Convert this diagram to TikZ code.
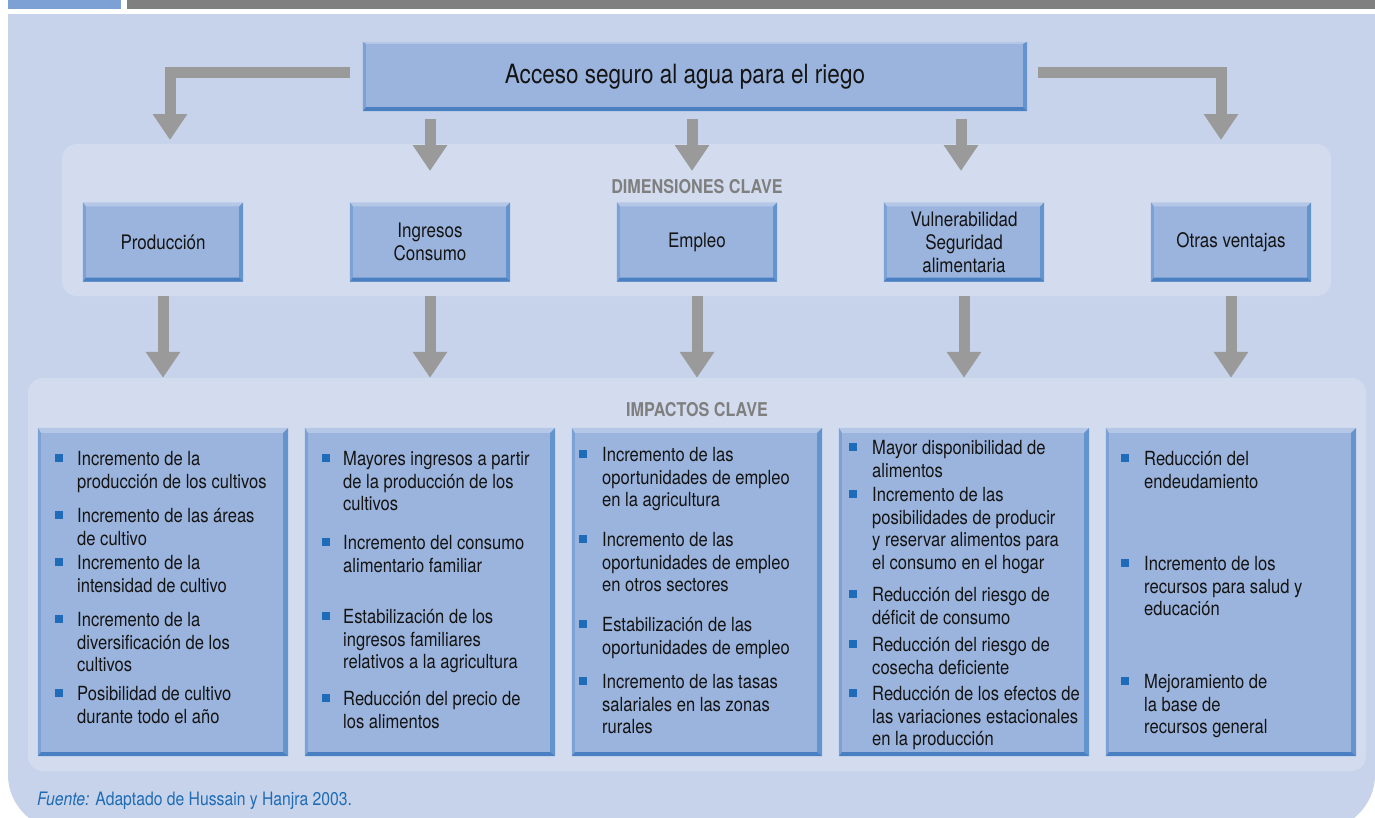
\documentclass[tikz,border=0pt]{standalone}
\usepackage{fontspec}
\newfontfamily\hv{TeX Gyre Heros}[FakeStretch=0.85]
\usetikzlibrary{arrows.meta,calc}
\definecolor{bgc}{HTML}{C7D3EA}
\definecolor{panc}{HTML}{D3DCEF}
\definecolor{boxc}{HTML}{9BB4DD}
\definecolor{bvtop}{HTML}{B5C7E7}
\definecolor{bvleft}{HTML}{7CA1D5}
\definecolor{bvright}{HTML}{6494CD}
\definecolor{bvbot}{HTML}{4A80C2}
\definecolor{arrc}{HTML}{9A9A9A}
\definecolor{bulc}{HTML}{1E6CB7}
\definecolor{headc}{HTML}{7F7F7F}
\definecolor{txtc}{HTML}{141414}
\definecolor{topblue}{HTML}{7DA1D4}
\definecolor{topgray}{HTML}{808080}
\definecolor{srcc}{HTML}{1F6CB4}
\newcommand\bev[5]{%
 \fill[bvtop] (#1.north west) -- (#1.north east) -- ([shift={(-#4,#3)}]#1.north east) -- ([shift={(#2,#3)}]#1.north west) -- cycle;
 \fill[bvleft] (#1.north west) -- ([shift={(#2,#3)}]#1.north west) -- ([shift={(#2,-#5)}]#1.south west) -- (#1.south west) -- cycle;
 \fill[bvright] (#1.north east) -- ([shift={(-#4,#3)}]#1.north east) -- ([shift={(-#4,-#5)}]#1.south east) -- (#1.south east) -- cycle;
 \fill[bvbot] (#1.south west) -- ([shift={(#2,-#5)}]#1.south west) -- ([shift={(-#4,-#5)}]#1.south east) -- (#1.south east) -- cycle;
}
\newcommand\impitem[5]{%
 \node[bul] (#1b) at (#2,#4-2) {};
 \node[itm] (#1) at (#3,#4-13) {\rule{0pt}{18pt}#5};
}
\begin{document}
\begin{tikzpicture}[x=1pt,y=-1pt,
  panel/.style={fill=panc,rounded corners=15pt,inner sep=0pt},
  boxbase/.style={fill=boxc,inner sep=0pt,text=txtc,align=center},
  dimbox/.style={boxbase,minimum width=160,minimum height=79,font=\hv\fontsize{20}{23}\selectfont},
  impbox/.style={boxbase,minimum width=250,minimum height=328},
  garrow/.style={draw=arrc,line width=11pt,line join=miter,-{Triangle[width=33pt,length=26pt]}},
  head/.style={font=\hv\bfseries\fontsize{19}{21}\selectfont,text=headc,inner sep=0pt},
  bul/.style={fill=bulc,minimum size=8pt,inner sep=0pt},
  itm/.style={anchor=north west,inner sep=0pt,align=left,font=\hv\fontsize{19.5}{22.8}\selectfont,text=txtc}]
\useasboundingbox (0,0) rectangle (1375,817);
% background
\fill[topblue] (8,0) rectangle (121,9);
\fill[topgray] (127,0) rectangle (1375,9);
\fill[bgc] (8,14) -- (1375,14) -- (1375,775) .. controls (1375,805) and (1350,830) .. (1320,830) -- (63,830) .. controls (33,830) and (8,805) .. (8,775) -- cycle;
% panels
\node[panel,minimum width=1269,minimum height=152] (dimpanel) at (696.5,220) {};
\node[panel,minimum width=1338,minimum height=393] (imppanel) at (697,574.5) {};
% title
\node[boxbase,minimum width=664,minimum height=69,font=\hv\fontsize{26.5}{30}\selectfont] (title) at (695,76.5) {\hspace*{-20pt}Acceso seguro al agua para el riego};
\bev{title}{3}{2}{4}{4}
% headings
\node[head] (dimhead) at (697,187) {DIMENSIONES CLAVE};
\node[head] (imphead) at (697,410) {IMPACTOS CLAVE};
% dimension boxes
\node[dimbox] (d1) at (163,242) {Producción};
\node[dimbox] (d2) at (430,242) {Ingresos\\Consumo};
\node[dimbox] (d3) at (697,242) {Empleo};
\node[dimbox] (d4) at (964,242) {Vulnerabilidad\\Seguridad\\alimentaria};
\node[dimbox] (d5) at (1231,242) {Otras ventajas};
\foreach \n in {d1,d2,d3,d4,d5} {\bev{\n}{3}{4}{4}{4}}
% impact boxes
\node[impbox] (i1) at (163,592) {};
\node[impbox] (i2) at (430,592) {};
\node[impbox] (i3) at (697,592) {};
\node[impbox] (i4) at (964,592) {};
\node[impbox] (i5) at (1231,592) {};
\foreach \n in {i1,i2,i3,i4,i5} {\bev{\n}{3}{5}{5}{4}}
% arrows
\coordinate (tipL) at (170,140);
\coordinate (tipR) at (1221,140);
\coordinate (tip2) at (430,171);
\coordinate (tip3) at (692,171);
\coordinate (tip4) at (961,171);
\draw[garrow] ([shift={(-13,-4.5)}]title.west) -| (tipL);
\draw[garrow] ([shift={(11,-4.5)}]title.east) -| (tipR);
\foreach \t in {tip2,tip3,tip4} {\draw[garrow] ($(title.south -| \t)+(0,8)$) -- (\t);}
\foreach \n in {d1,d2,d3,d4,d5} {\draw[garrow] (dimpanel.south -| \n) -- (imppanel.north -| \n);}
% items box 1
\impitem{a1}{59}{77}{460}{Incremento de la\\producción de los cultivos}
\impitem{a2}{59}{77}{517}{Incremento de las áreas\\de cultivo}
\impitem{a3}{59}{77}{564}{Incremento de la\\intensidad de cultivo}
\impitem{a4}{59}{77}{621}{Incremento de la\\diversificación de los\\cultivos}
\impitem{a5}{59}{77}{695}{Posibilidad de cultivo\\durante todo el año}
% box 2
\impitem{b1}{326}{343}{460}{Mayores ingresos a partir\\de la producción de los\\cultivos}
\impitem{b2}{326}{343}{544}{Incremento del consumo\\alimentario familiar}
\impitem{b3}{326}{343}{618}{Estabilización de los\\ingresos familiares\\relativos a la agricultura}
\impitem{b4}{326}{343}{700}{Reducción del precio de\\los alimentos}
% box 3
\impitem{c1}{583}{602}{456}{Incremento de las\\oportunidades de empleo\\en la agricultura}
\impitem{c2}{583}{602}{541}{Incremento de las\\oportunidades de empleo\\en otros sectores}
\impitem{c3}{583}{602}{626}{Estabilización de las\\oportunidades de empleo}
\impitem{c4}{583}{602}{683}{Incremento de las tasas\\salariales en las zonas\\rurales}
% box 4
\impitem{e1}{853}{872}{449}{Mayor disponibilidad de\\alimentos}
\impitem{e2}{853}{872}{496}{Incremento de las\\posibilidades de producir\\y reservar alimentos para\\el consumo en el hogar}
\impitem{e3}{853}{872}{596}{Reducción del riesgo de\\déficit de consumo}
\impitem{e4}{853}{872}{646}{Reducción del riesgo de\\cosecha deficiente}
\impitem{e5}{853}{872}{695}{Reducción de los efectos de\\las variaciones estacionales\\en la producción}
% box 5
\impitem{f1}{1125}{1144}{460}{Reducción del\\endeudamiento}
\impitem{f2}{1125}{1144}{565}{Incremento de los\\recursos para salud y\\educación}
\impitem{f3}{1125}{1144}{683}{Mejoramiento de\\la base de\\recursos general}
% source
\node[anchor=west,inner sep=0pt,text=srcc,font=\hv\fontsize{18.5}{21}\selectfont] (src) at (37,801) {\textit{Fuente:} Adaptado de Hussain y Hanjra 2003.};
\end{tikzpicture}
\end{document}
